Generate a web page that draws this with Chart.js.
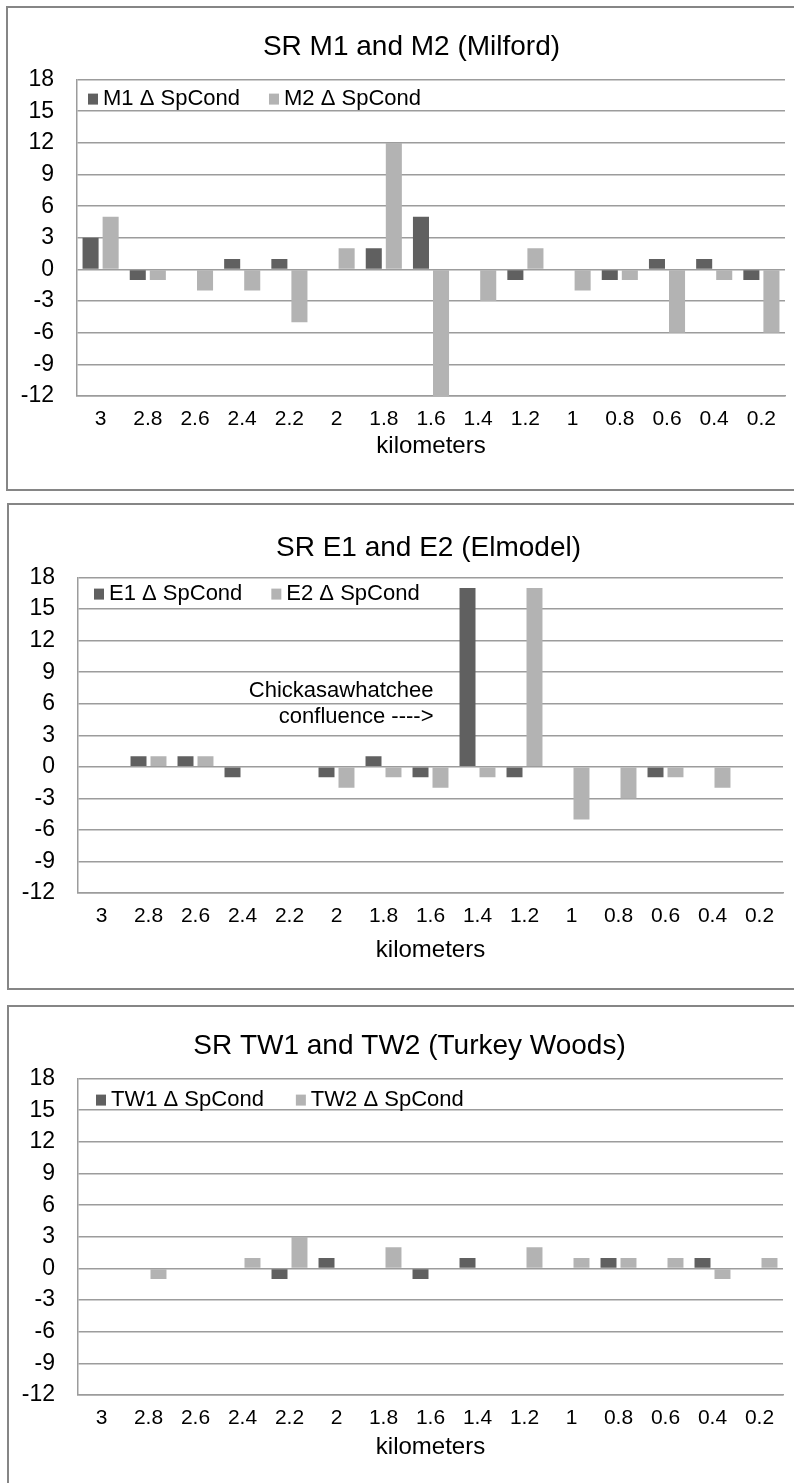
<!DOCTYPE html>
<html>
<head>
<meta charset="utf-8">
<title>SR SpCond change</title>
<script src="https://cdn.jsdelivr.net/npm/chart.js@4.4.1/dist/chart.umd.min.js"></script>
<style>
  body { margin: 0; width: 794px; height: 1483px; background: #fff; position: relative; overflow: hidden; }
  .panel { position: absolute; border: 2px solid #868686; box-sizing: border-box; width: 830px; }
  canvas { position: absolute; left: 0; }
</style>
</head>
<body>
<div class="panel" style="left:6px; top:6px; height:485px;"></div>
<div class="panel" style="left:7px; top:503px; height:487px;"></div>
<div class="panel" style="left:7px; top:1005px; height:500px;"></div>
<canvas id="chartM" width="794" height="480" style="top:8px"></canvas>
<canvas id="chartE" width="794" height="483" style="top:505px"></canvas>
<canvas id="chartTW" width="794" height="476" style="top:1007px"></canvas>

<script>
  'use strict';

  // Distance along the river, km (same for all three sites)
  const kilometers = ['3', '2.8', '2.6', '2.4', '2.2', '2', '1.8', '1.6', '1.4', '1.2', '1', '0.8', '0.6', '0.4', '0.2'];

  // Milford
  const m1SpCond = [3, -1, 0, 1, 1, 0, 2, 5, 0, -1, 0, -1, 1, 1, -1];
  const m2SpCond = [5, -1, -2, -2, -5, 2, 12, -12, -3, 2, -2, -1, -6, -1, -6];

  // Elmodel
  const e1SpCond = [0, 1, 1, -1, 0, -1, 1, -1, 17, -1, 0, 0, -1, 0, 0];
  const e2SpCond = [0, 1, 1, 0, 0, -2, -1, -2, -1, 17, -5, -3, -1, -2, 0];

  // Turkey Woods
  const tw1SpCond = [0, 0, 0, 0, -1, 1, 0, -1, 1, 0, 0, 1, 0, 1, 0];
  const tw2SpCond = [0, -1, 0, 1, 3, 0, 2, 0, 0, 2, 1, 1, 1, -1, 1];

  // y axis range and step
  const yMin = -12;
  const yMax = 18;
  const yStep = 3;

  const FONT = '"Liberation Sans", Arial, sans-serif';
  const DARK = '#606060';
  const LIGHT = '#b3b3b3';
  const GRID = '#9c9c9c';

  // Legend drawn inside the plot area, on one row (Excel style)
  const insideLegend = {
    id: 'insideLegend',
    afterDatasetsDraw(chart, args, opts) {
      const ctx = chart.ctx;
      const area = chart.chartArea;
      let x = area.left + opts.offsetX;
      const y = area.top + opts.offsetY;

      ctx.save();
      ctx.font = '22px ' + FONT;
      ctx.textBaseline = 'middle';
      ctx.textAlign = 'left';
      chart.data.datasets.forEach(ds => {
        ctx.fillStyle = ds.backgroundColor;
        ctx.fillRect(x, y - 5, 10, 11);
        x += 15;
        ctx.fillStyle = '#000';
        ctx.fillText(ds.label, x, y);
        x += ctx.measureText(ds.label).width + opts.itemGap;
      });
      ctx.restore();
    }
  };

  // Free text note placed against the axes (only used on the Elmodel chart)
  const noteText = {
    id: 'noteText',
    afterDatasetsDraw(chart, args, opts) {
      if (!opts.lines) {
        return;
      }
      const ctx = chart.ctx;
      const x = chart.scales.x.getPixelForValue(opts.category) + 3;
      const y = chart.scales.y.getPixelForValue(opts.value);

      ctx.save();
      ctx.font = '22px ' + FONT;
      ctx.fillStyle = '#000';
      ctx.textAlign = 'right';
      ctx.textBaseline = 'middle';
      opts.lines.forEach((line, i) => {
        ctx.fillText(line, x, y - 13 + i * 26);
      });
      ctx.restore();
    }
  };

  // The Excel titles sit a little off the canvas centre: nudge the title box sideways
  const titleShift = {
    id: 'titleShift',
    afterLayout(chart, args, opts) {
      const t = chart.titleBlock;
      if (t && opts.dx) {
        t.left += opts.dx;
        t.right += opts.dx;
      }
    }
  };

  function makeChart(id, title, series, layout) {
    const datasets = series.map((s, i) => ({
      label: s.label,
      data: s.data,
      backgroundColor: i === 0 ? DARK : LIGHT,
      borderWidth: 0,
      categoryPercentage: 0.85,
      barPercentage: 0.8
    }));

    return new Chart(document.getElementById(id), {
      type: 'bar',
      data: {
        labels: kilometers,
        datasets: datasets
      },
      plugins: [insideLegend, noteText, titleShift],
      options: {
        responsive: false,
        devicePixelRatio: 1,
        animation: false,
        layout: {
          padding: { left: 0, right: layout.padRight, top: 0, bottom: 0 }
        },
        plugins: {
          legend: { display: false },
          tooltip: { enabled: false },
          title: {
            display: true,
            text: title,
            color: '#000',
            font: { family: FONT, size: 28, weight: 'normal' },
            padding: { top: layout.titleTop, bottom: layout.titleBottom }
          },
          titleShift: { dx: layout.titleDx },
          insideLegend: layout.legend,
          noteText: layout.note || {}
        },
        scales: {
          x: {
            grid: { display: false },
            border: { display: true, color: GRID, width: 1.5 },
            ticks: {
              color: '#000',
              font: { family: FONT, size: 21 },
              padding: 3,
              maxRotation: 0,
              autoSkip: false
            },
            title: {
              display: true,
              text: 'kilometers',
              color: '#000',
              font: { family: FONT, size: 24 },
              padding: { top: 0, bottom: layout.xTitleBottom }
            },
            afterFit: scale => { scale.height = layout.xHeight; }
          },
          y: {
            min: yMin,
            max: yMax,
            grid: { color: GRID, lineWidth: 1.5, drawTicks: false },
            border: { display: true, color: GRID, width: 1.5 },
            ticks: {
              stepSize: yStep,
              color: '#000',
              font: { family: FONT, size: 23 },
              padding: 23
            },
            afterFit: scale => { scale.width = layout.yWidth; }
          }
        }
      }
    });
  }

  makeChart('chartM', 'SR M1 and M2 (Milford)', [
    { label: 'M1 \u0394 SpCond', data: m1SpCond },
    { label: 'M2 \u0394 SpCond', data: m2SpCond }
  ], {
    padRight: 9, yWidth: 77, titleDx: 19,
    titleTop: 22, titleBottom: 16,
    xHeight: 92, xTitleBottom: 27,
    legend: { offsetX: 11, offsetY: 19, itemGap: 29 }
  });

  makeChart('chartE', 'SR E1 and E2 (Elmodel)', [
    { label: 'E1 \u0394 SpCond', data: e1SpCond },
    { label: 'E2 \u0394 SpCond', data: e2SpCond }
  ], {
    padRight: 11, yWidth: 78, titleDx: 37,
    titleTop: 26, titleBottom: 13,
    xHeight: 95, xTitleBottom: 23,
    legend: { offsetX: 16, offsetY: 16, itemGap: 29 },
    note: { lines: ['Chickasawhatchee', 'confluence ---->'], category: '1.6', value: 6 }
  });

  makeChart('chartTW', 'SR TW1 and TW2 (Turkey Woods)', [
    { label: 'TW1 \u0394 SpCond', data: tw1SpCond },
    { label: 'TW2 \u0394 SpCond', data: tw2SpCond }
  ], {
    padRight: 11, yWidth: 78, titleDx: 18,
    titleTop: 22, titleBottom: 16,
    xHeight: 88, xTitleBottom: 21,
    legend: { offsetX: 18, offsetY: 21, itemGap: 32 }
  });
</script>
</body>
</html>
